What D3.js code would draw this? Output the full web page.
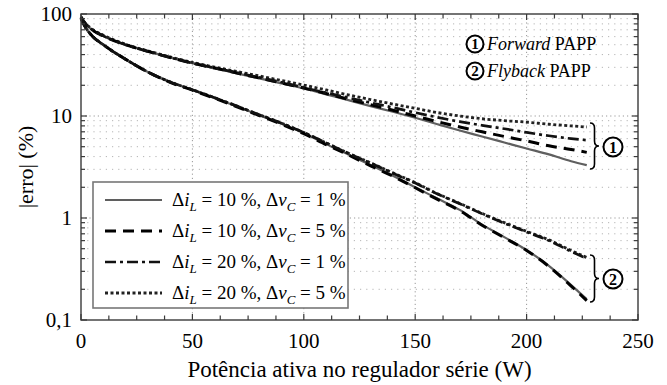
<!DOCTYPE html>
<html>
<head>
<meta charset="utf-8">
<script src="https://cdn.jsdelivr.net/npm/d3@7"></script>
</head>
<body style="margin:0">
<svg id="chart" width="667" height="385" font-family="Times New Roman, Tinos, Liberation Serif, serif"></svg>
<script>
// Active power in the series regulator (W)
const power = [0, 2, 5, 10, 20, 30, 40, 50, 60, 70, 80, 90, 100, 110, 120, 130, 140, 150, 160, 170, 180, 190, 200, 210, 220, 227];

// |erro| (%) — Forward PAPP
const fwd_10_1 = [93, 80, 70, 61, 50, 43, 37.5, 33, 29.4, 26.2, 23.4, 20.9, 18.6, 16.3, 14.3, 12.5, 11.0, 9.6, 8.3, 7.2, 6.3, 5.5, 4.8, 4.2, 3.6, 3.3];
const fwd_10_5 = [93, 80, 70, 61, 50, 43, 37.5, 33, 29.5, 26.4, 23.6, 21.1, 18.8, 16.6, 14.6, 12.9, 11.4, 10.0, 8.8, 7.8, 7.0, 6.3, 5.7, 5.1, 4.7, 4.4];
const fwd_20_1 = [93, 80, 70, 61, 50, 43, 37.5, 33, 29.6, 26.6, 23.9, 21.4, 19.0, 16.9, 15.1, 13.5, 12.1, 10.8, 9.7, 8.8, 8.1, 7.5, 6.9, 6.4, 6.0, 5.8];
const fwd_20_5 = [94, 81, 71, 62, 50.5, 43.5, 38, 33.5, 30.2, 27.3, 24.7, 22.3, 20.1, 18.0, 16.1, 14.5, 13.1, 11.9, 10.8, 10.0, 9.4, 9.0, 8.7, 8.3, 8.0, 7.8];

// |erro| (%) — Flyback PAPP
const fly_10_1 = [91, 74, 61, 50, 36, 27, 21.5, 18, 15, 12.4, 10.2, 8.4, 6.8, 5.3, 4.2, 3.3, 2.6, 2.0, 1.55, 1.2, 0.86, 0.65, 0.485, 0.34, 0.22, 0.16];
const fly_10_5 = [91, 74, 61, 50, 36, 27, 21.4, 17.9, 14.9, 12.3, 10.1, 8.3, 6.7, 5.25, 4.15, 3.25, 2.57, 1.98, 1.52, 1.18, 0.85, 0.64, 0.48, 0.335, 0.215, 0.155];
const fly_20_1 = [91, 74, 61, 50, 36, 27, 21.6, 18.1, 15.1, 12.5, 10.3, 8.5, 6.9, 5.45, 4.3, 3.45, 2.75, 2.2, 1.72, 1.38, 1.1, 0.89, 0.73, 0.6, 0.47, 0.40];
const fly_20_5 = [91, 74, 61, 50, 36, 27, 21.6, 18.1, 15.1, 12.5, 10.3, 8.5, 6.9, 5.45, 4.32, 3.47, 2.77, 2.22, 1.73, 1.39, 1.11, 0.9, 0.74, 0.61, 0.48, 0.41];

// Axis ticks and labels
const xTicks = [0, 50, 100, 150, 200, 250];
const xMinorTicks = d3.range(0, 250.01, 12.5);
const yTicks = [0.1, 1, 10, 100];
const yTickLabels = ["0,1", "1", "10", "100"];
const xLabel = "Potência ativa no regulador série (W)";
const yLabel = "|erro| (%)";

// Legend entries: Δi_L and Δv_C settings
const legendDiL = ["10", "10", "20", "20"];
const legendDvC = ["1", "5", "1", "5"];

const FONT = '"Times New Roman", Tinos, "Liberation Serif", serif';

const styles = [
  { stroke: "#5f5f5f", width: 2.2, dash: null },
  { stroke: "#000", width: 3, dash: "11,7" },
  { stroke: "#111", width: 2.7, dash: "11,4,3,4" },
  { stroke: "#222", width: 2.8, dash: "3,2.5" }
];

const svg = d3.select("#chart");
const L = 81, R = 638, T = 14, B = 320;
const x = d3.scaleLinear().domain([0, 250]).range([L, R]);
const y = d3.scaleLog().domain([0.1, 100]).range([B, T]);

function addText(parent, size) {
  return parent.append("text")
    .style("font-family", FONT)
    .style("font-size", size + "px");
}

// Grid: minor horizontal log lines
const minorY = [];
[0.1, 1, 10].forEach(d => { for (let k = 2; k <= 9; k++) minorY.push(d * k); });
svg.append("g").selectAll("line").data(minorY).join("line")
  .attr("x1", L).attr("x2", R)
  .attr("y1", d => y(d)).attr("y2", d => y(d))
  .attr("stroke", "#b5b5b5").attr("stroke-width", 1)
  .attr("stroke-dasharray", "1.2,5");

// Grid: major lines
svg.append("g").selectAll("line").data([1, 10]).join("line")
  .attr("x1", L).attr("x2", R)
  .attr("y1", d => y(d)).attr("y2", d => y(d))
  .attr("stroke", "#999").attr("stroke-width", 1)
  .attr("stroke-dasharray", "1.2,3");
svg.append("g").selectAll("line").data([50, 100, 150, 200]).join("line")
  .attr("x1", d => x(d)).attr("x2", d => x(d))
  .attr("y1", T).attr("y2", B)
  .attr("stroke", "#999").attr("stroke-width", 1)
  .attr("stroke-dasharray", "1.2,3");

// Curves
const line = d3.line()
  .x((d, i) => x(power[i]))
  .y(d => y(d))
  .curve(d3.curveMonotoneX);

const groups = [
  [fwd_10_1, fwd_10_5, fwd_20_1, fwd_20_5],
  [fly_10_1, fly_10_5, fly_20_1, fly_20_5]
];
const drawOrder = [0, 3, 1, 2];
const curves = svg.append("g");
groups.forEach(g => {
  drawOrder.forEach(k => {
    const s = styles[k];
    curves.append("path")
      .attr("d", line(g[k]))
      .attr("fill", "none")
      .attr("stroke", s.stroke)
      .attr("stroke-width", s.width)
      .attr("stroke-dasharray", s.dash);
  });
});

// Axis box
svg.append("rect")
  .attr("x", L).attr("y", T).attr("width", R - L).attr("height", B - T)
  .attr("fill", "none").attr("stroke", "#3a3a3a").attr("stroke-width", 1.4);

// Ticks (inward, on all four sides)
const tickG = svg.append("g").attr("stroke", "#3a3a3a").attr("stroke-width", 1.2);
xMinorTicks.forEach(v => {
  const len = (v % 50 === 0) ? 6 : 4.5;
  tickG.append("line").attr("x1", x(v)).attr("x2", x(v)).attr("y1", B).attr("y2", B - len);
  tickG.append("line").attr("x1", x(v)).attr("x2", x(v)).attr("y1", T).attr("y2", T + len);
});
const allY = minorY.concat(yTicks);
allY.forEach(v => {
  const len = yTicks.includes(v) ? 6 : 4;
  tickG.append("line").attr("x1", L).attr("x2", L + len).attr("y1", y(v)).attr("y2", y(v));
  tickG.append("line").attr("x1", R).attr("x2", R - len).attr("y1", y(v)).attr("y2", y(v));
});

// Tick labels
xTicks.forEach(d => {
  addText(svg, 21).attr("x", x(d)).attr("y", 348)
    .attr("text-anchor", "middle").text(d);
});
yTicks.forEach((d, i) => {
  addText(svg, 21).attr("x", 72).attr("y", y(d) + 7)
    .attr("text-anchor", "end").text(yTickLabels[i]);
});

// Axis titles
addText(svg, 23)
  .attr("x", (L + R) / 2).attr("y", 377)
  .attr("text-anchor", "middle")
  .text(xLabel);
addText(svg, 22)
  .attr("transform", `translate(33,${(T + B) / 2}) rotate(-90)`)
  .attr("text-anchor", "middle")
  .text(yLabel);

// Legend
svg.append("rect")
  .attr("x", 93).attr("y", 182).attr("width", 255).attr("height", 126)
  .attr("fill", "#fff").attr("stroke", "#777").attr("stroke-width", 1.6);
const legRows = [200, 231, 262, 293];
styles.forEach((s, i) => {
  const yy = legRows[i];
  svg.append("line")
    .attr("x1", 105).attr("x2", 162).attr("y1", yy).attr("y2", yy)
    .attr("stroke", s.stroke).attr("stroke-width", s.width)
    .attr("stroke-dasharray", s.dash);
  const t = addText(svg, 19)
    .attr("x", 172).attr("y", yy + 6);
  t.append("tspan").text("Δ");
  t.append("tspan").style("font-style", "italic").text("i");
  t.append("tspan").style("font-style", "italic").style("font-size", "13px").attr("dy", 5).text("L");
  t.append("tspan").attr("dy", -5).text(` = ${legendDiL[i]} %, Δ`);
  t.append("tspan").style("font-style", "italic").text("v");
  t.append("tspan").style("font-style", "italic").style("font-size", "13px").attr("dy", 5).text("C");
  t.append("tspan").attr("dy", -5).text(` = ${legendDvC[i]} %`);
});

// Circled group numbers
function circled(cx, cy, r, label, fs) {
  svg.append("circle").attr("cx", cx).attr("cy", cy).attr("r", r)
    .attr("fill", "#fff").attr("stroke", "#000").attr("stroke-width", 2);
  addText(svg, fs).attr("x", cx).attr("y", cy + fs * 0.35)
    .attr("text-anchor", "middle").style("font-weight", "bold")
    .text(label);
}

// Group annotations (top right)
const groupNames = ["Forward", "Flyback"];
const annRows = [44, 71];
groupNames.forEach((name, i) => {
  circled(475, annRows[i], 8.5, String(i + 1), 15);
  const t = addText(svg, 18).attr("x", 487).attr("y", annRows[i] + 6);
  t.append("tspan").style("font-style", "italic").text(name);
  t.append("tspan").text(" PAPP");
});

// Braces grouping the curve ends
function brace(x0, y0, y1, w) {
  const ym = (y0 + y1) / 2, xm = x0 + w / 2, r = 5;
  const p = `M${x0},${y0} Q${xm},${y0} ${xm},${y0 + r} L${xm},${ym - r} Q${xm},${ym} ${x0 + w},${ym}` +
            ` Q${xm},${ym} ${xm},${ym + r} L${xm},${y1 - r} Q${xm},${y1} ${x0},${y1}`;
  svg.append("path").attr("d", p).attr("fill", "none")
    .attr("stroke", "#000").attr("stroke-width", 1.6);
}
brace(590, 123, 169, 9);
circled(613, 147, 9.5, "1", 16);
brace(590, 255, 302, 9);
circled(613, 279, 9.5, "2", 16);
</script>
</body>
</html>
